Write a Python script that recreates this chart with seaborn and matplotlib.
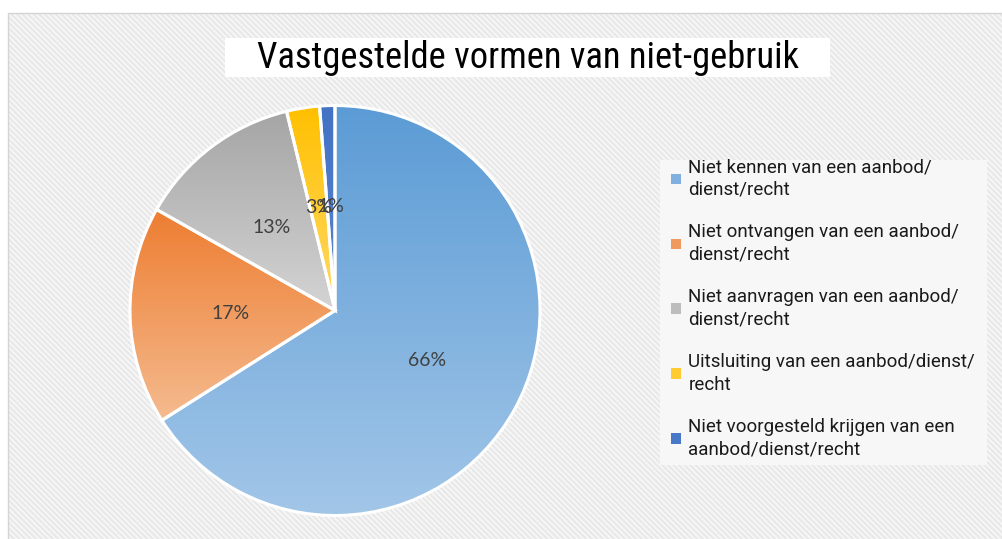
import numpy as np
import matplotlib
matplotlib.use("Agg")
import matplotlib.pyplot as plt
import seaborn as sns
from matplotlib.patches import Rectangle, Patch
from matplotlib.colors import LinearSegmentedColormap

sns.set_theme(style="white")
plt.rcParams["font.family"] = ["Roboto", "DejaVu Sans"]
plt.rcParams["hatch.linewidth"] = 1.3

# data
categories = [
    "Niet kennen van een aanbod/\ndienst/recht",
    "Niet ontvangen van een aanbod/\ndienst/recht",
    "Niet aanvragen van een aanbod/\ndienst/recht",
    "Uitsluiting van een aanbod/dienst/\nrecht",
    "Niet voorgesteld krijgen van een\naanbod/dienst/recht",
]
shares = [66.0, 17.2, 13.0, 2.6, 1.2]
title = "Vastgestelde vormen van niet-gebruik"

# (dark top, light bottom) per slice
grad_colors = [
    ("#5b9bd5", "#a2c6e8"),
    ("#ed7d31", "#f5bb8f"),
    ("#a5a5a5", "#d4d4d4"),
    ("#ffc000", "#ffd966"),
    ("#4472c4", "#5a86d0"),
]
legend_colors = ["#7fb0df", "#f19a5f", "#bdbdbd", "#ffcb33", "#4a78c8"]

W, H = 1003, 539
fig = plt.figure(figsize=(W / 100, H / 100), dpi=100)
fig.patch.set_facecolor("white")

# hatched chart area background
x0, y0 = 8 / W, 0.0
bg = Rectangle((x0, y0), 1.0, 1 - 13 / H, transform=fig.transFigure,
               facecolor="#e8e8e8", edgecolor="#f7f7f7", hatch="\\\\\\\\\\\\",
               linewidth=0, zorder=-10)
fig.patches.append(bg)
border = Rectangle((x0, y0 - 0.01), 1.0, 1 - 13 / H + 0.01, transform=fig.transFigure,
                   facecolor="none", edgecolor="#d4d4d4", linewidth=1, zorder=-9)
fig.patches.append(border)

# title box
fig.patches.append(Rectangle((225 / W, 1 - 77 / H), 605 / W, 39 / H,
                             transform=fig.transFigure, facecolor="white",
                             edgecolor="none", zorder=-5))
fig.text(528 / W, 1 - 58 / H, title, ha="center", va="center",
         fontsize=26.3, color="black",
         family=["Roboto Condensed", "DejaVu Sans Condensed",
                 "Liberation Sans Narrow", "Roboto"])

# legend box
fig.patches.append(Rectangle((660 / W, 1 - 465 / H), 327 / W, 305 / H,
                             transform=fig.transFigure, facecolor="#f7f7f7",
                             edgecolor="none", zorder=-5))

R = 205
cx, cy = 335, 310.5
size = 2.04 * R
ax = fig.add_axes([(cx - size / 2) / W, 1 - (cy + size / 2) / H, size / W, size / H])
ax.set_facecolor("none")
wedges, texts, autotexts = ax.pie(
    shares, startangle=90, counterclock=False, radius=1,
    autopct="%.0f%%", pctdistance=0.51,
    wedgeprops=dict(edgecolor="white", linewidth=2.2),
    textprops=dict(color="#404040", fontsize=14, family=["Lato", "DejaVu Sans"]),
)

# vertical gradient inside each wedge
for w, (c_top, c_bot) in zip(wedges, grad_colors):
    t = np.radians(np.linspace(w.theta1, w.theta2, 200))
    xs = np.concatenate([[0], w.r * np.cos(t)])
    ys = np.concatenate([[0], w.r * np.sin(t)])
    cmap = LinearSegmentedColormap.from_list("g", [c_top, c_bot])
    grad = np.linspace(0, 1, 256).reshape(-1, 1)
    im = ax.imshow(grad, cmap=cmap, aspect="auto", origin="upper",
                   extent=[xs.min(), xs.max(), ys.min(), ys.max()], zorder=0.5)
    im.set_clip_path(w)
    w.set_facecolor("none")
    w.set_zorder(1)
for txt in autotexts:
    txt.set_zorder(3)

ax.set_xlim(-1.02, 1.02)
ax.set_ylim(-1.02, 1.02)
ax.set_aspect("equal")
ax.axis("off")

handles = [Patch(facecolor=c, edgecolor="none") for c in legend_colors]
leg = fig.legend(handles, categories, loc="upper left",
                 bbox_to_anchor=(664 / W, 1 - 151 / H),
                 frameon=False, fontsize=13.5, handlelength=0.5, handleheight=0.5,
                 handletextpad=0.4, labelspacing=1.3, borderaxespad=0)
for t in leg.get_texts():
    t.set_color("#1a1a1a")
    t.set_linespacing(1.32)

fig.savefig("out.png", dpi=100)
